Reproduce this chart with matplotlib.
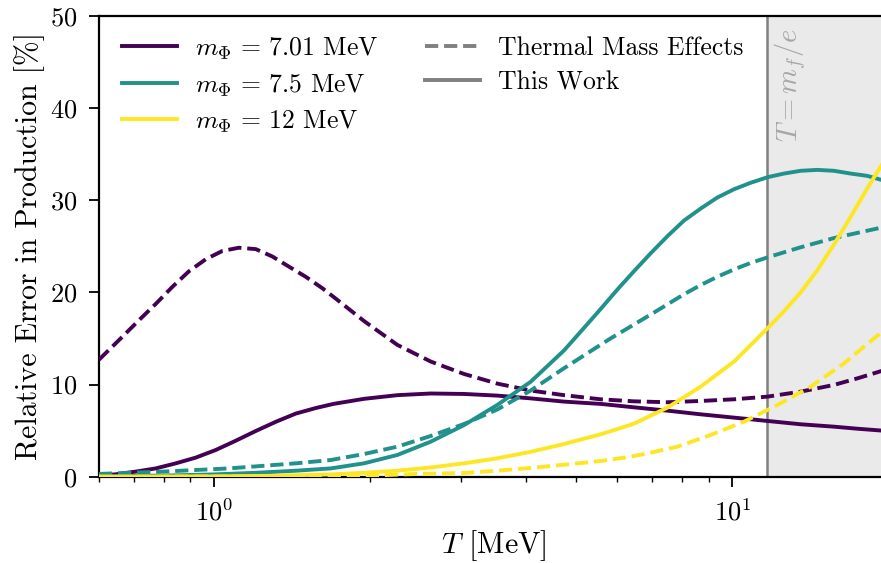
import numpy as np
import matplotlib
matplotlib.use("Agg")
import matplotlib.pyplot as plt
from matplotlib.lines import Line2D

plt.rcParams['font.family'] = 'serif'
plt.rcParams['font.serif'] = ['cmr10', 'DejaVu Serif']
plt.rcParams['mathtext.fontset'] = 'cm'
plt.rcParams['axes.unicode_minus'] = False
plt.rcParams['axes.formatter.use_mathtext'] = True

# ---- m_Phi = 7.01 MeV ----
T_work_701 = [0.6, 0.646, 0.706, 0.772, 0.844, 0.922, 1.008, 1.101, 1.204, 1.315, 1.438, 1.571,
              1.70, 1.947, 2.259, 2.619, 3.037, 3.523, 4.083, 4.735, 5.573, 6.461, 7.496,
              8.69, 10.08, 11.69, 13.55, 15.71, 17.5, 20.0]
work_701 = [0.1, 0.26, 0.55, 0.9, 1.45, 2.07, 2.9, 3.9, 4.96, 5.95, 6.85, 7.45,
            7.9, 8.45, 8.85, 9.03, 8.98, 8.8, 8.5, 8.15, 7.9, 7.53, 7.17,
            6.77, 6.41, 6.05, 5.69, 5.43, 5.2, 4.95]
T_thermal_701 = [0.6, 0.666, 0.717, 0.772, 0.831, 0.895, 0.964, 1.038, 1.117, 1.204, 1.296, 1.395,
                 1.503, 1.619, 1.72, 1.947, 2.259, 2.619, 3.037, 3.523, 4.083, 4.735, 5.573,
                 6.461, 7.496, 8.69, 10.08, 11.69, 13.55, 15.71, 17.5, 20.0]
thermal_701 = [12.7, 15.2, 17.0, 18.75, 20.6, 22.3, 23.6, 24.5, 24.85, 24.7, 23.9, 22.8,
               21.7, 20.45, 19.3, 16.9, 14.3, 12.5, 11.15, 10.1, 9.35, 8.85, 8.4,
               8.18, 8.08, 8.22, 8.4, 8.69, 9.23, 9.96, 10.7, 11.7]

# ---- m_Phi = 7.5 MeV ----
T_work_75 = [0.6, 0.8, 1.0, 1.2, 1.438, 1.68, 1.947, 2.259, 2.619, 3.037, 3.523, 4.083, 4.735,
             5.0, 5.493, 6.0, 6.461, 6.96, 7.496, 8.07, 8.69, 9.36, 10.08, 10.85, 11.69, 12.58,
             13.55, 14.59, 15.71, 16.92, 18.22, 20.0]
work_75 = [0.05, 0.12, 0.25, 0.42, 0.65, 0.9, 1.45, 2.36, 3.8, 5.6, 7.8, 10.3, 13.7,
           15.2, 17.8, 20.3, 22.3, 24.25, 26.1, 27.8, 29.1, 30.3, 31.2, 31.9, 32.5, 32.9,
           33.2, 33.3, 33.2, 32.9, 32.65, 32.0]
T_thermal_75 = [0.6, 0.795, 1.069, 1.438, 1.68, 1.947, 2.259, 2.619, 3.037, 3.523, 4.083, 4.735,
                5.782, 6.366, 6.96, 7.496, 8.07, 8.69, 9.36, 10.08, 10.85, 11.69, 12.58,
                13.55, 14.59, 15.71, 16.92, 18.22, 20.0]
thermal_75 = [0.3, 0.55, 0.9, 1.45, 1.81, 2.46, 3.26, 4.42, 5.72, 7.3, 9.35, 11.77,
              14.9, 16.3, 17.6, 18.7, 19.8, 20.8, 21.7, 22.5, 23.2, 23.8, 24.35,
              24.9, 25.4, 25.9, 26.3, 26.7, 27.2]

# ---- m_Phi = 12 MeV ----
T_work_12 = [0.6, 1.0, 1.3, 1.68, 1.947, 2.259, 2.619, 3.037, 3.523, 4.083, 4.735, 5.573, 6.461,
             7.496, 8.69, 10.08, 11.69, 12.58, 13.55, 14.59, 15.71, 16.92, 18.22, 20.0]
work_12 = [0.0, 0.03, 0.1, 0.25, 0.43, 0.65, 1.0, 1.45, 2.0, 2.7, 3.55, 4.6, 5.75,
           7.5, 9.77, 12.5, 16.1, 17.95, 20.0, 22.4, 25.2, 28.2, 31.3, 35.0]
T_thermal_12 = [0.6, 1.5, 2.0, 2.475, 3.037, 3.523, 4.083, 4.735, 5.573, 6.24, 6.754, 7.838, 9.085,
                10.53, 12.22, 14.17, 16.43, 20.0]
thermal_12 = [0.0, 0.03, 0.12, 0.3, 0.4, 0.65, 0.95, 1.3, 1.7, 2.1, 2.45, 3.26, 4.53,
              5.97, 7.78, 9.77, 12.3, 16.3]

labels = [r'$m_\Phi\,=\,7.01$ MeV', r'$m_\Phi\,=\,7.5$ MeV', r'$m_\Phi\,=\,12$ MeV']
colors = ['#440154', '#21918c', '#fde725']

T_cut = 11.65
xlim = (0.6, 20.0)

fig = plt.figure(figsize=(8.81, 5.63), dpi=100)
ax = fig.add_axes([99/881, (563-476.7)/563, 789.3/881, (476.7-16)/563])

ax.axvspan(T_cut, xlim[1], color='#eaeaea', zorder=0, lw=0)
ax.axvline(T_cut, color='#808080', lw=1.8, zorder=1)
ax.text(12.96, 48.7, r'$T = m_f/e$', rotation=90, color='#a6a6a6', fontsize=20.5,
        ha='center', va='top')

lw = 2.8
series = [(T_work_701, work_701, T_thermal_701, thermal_701),
          (T_work_75, work_75, T_thermal_75, thermal_75),
          (T_work_12, work_12, T_thermal_12, thermal_12)]
for (tw, w, tt, th), c in zip(series, colors):
    ax.plot(tw, w, color=c, lw=lw, zorder=3)
    ax.plot(tt, th, color=c, lw=lw, ls=(0, (3.4, 1.5)), zorder=3)

ax.set_xscale('log')
ax.set_xlim(*xlim)
ax.set_ylim(0, 50)
ax.set_yticks([0, 10, 20, 30, 40, 50])
ax.set_xlabel(r'$T$ [MeV]', fontsize=21.5, labelpad=2)
ax.set_ylabel(r'Relative Error in Production [%]', fontsize=21.5, labelpad=4)
ax.tick_params(labelsize=19)
ax.tick_params(which='major', length=7, width=1.3, pad=8.5)
ax.tick_params(which='minor', length=3.5, width=1.0)
ax.spines['right'].set_visible(False)
for s in ['left', 'bottom', 'top']:
    ax.spines[s].set_linewidth(1.6)

h_ord = [Line2D([], [], color=c, lw=lw) for c in colors]
h_ord += [Line2D([], [], color='#808080', lw=lw, ls=(0, (3.4, 1.5))),
          Line2D([], [], color='#808080', lw=lw),
          Line2D([], [], color='none')]
l_ord = labels + ['Thermal Mass Effects', 'This Work', '']
ax.legend(h_ord, l_ord, ncol=2, loc='upper left', frameon=False, fontsize=18.5,
          handlelength=2.14, handletextpad=0.7, columnspacing=1.8, labelspacing=0.4,
          bbox_to_anchor=(0.0, 1.008))

fig.savefig('out.png', dpi=100)
